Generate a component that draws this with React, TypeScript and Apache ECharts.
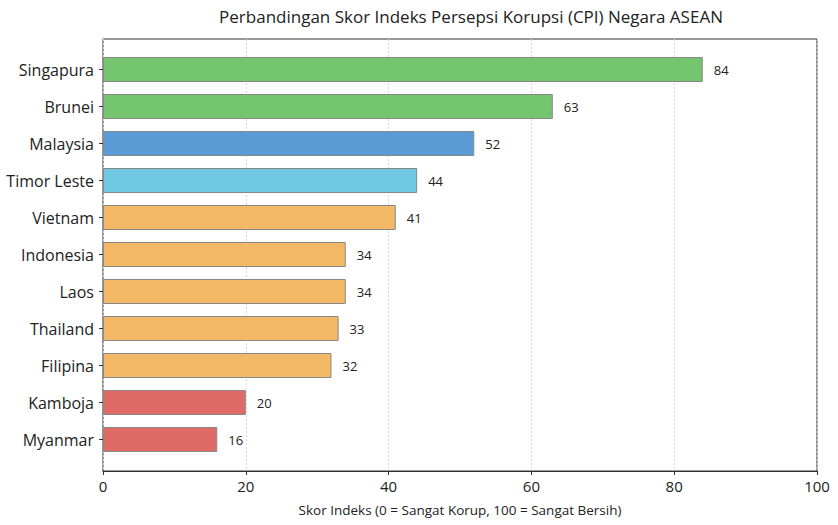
import { useEffect, useRef } from 'react'
import * as echarts from 'echarts'

// Data (top to bottom)
const countries = ['Singapura', 'Brunei', 'Malaysia', 'Timor Leste', 'Vietnam', 'Indonesia', 'Laos', 'Thailand', 'Filipina', 'Kamboja', 'Myanmar']
const scores = [84, 63, 52, 44, 41, 34, 34, 33, 32, 20, 16]
const barColors = ['#75c46e', '#75c46e', '#5b9bd5', '#70c8e2', '#f2b866', '#f2b866', '#f2b866', '#f2b866', '#f2b866', '#e06b66', '#e06b66']
const xTicks = [0, 20, 40, 60, 80, 100]

const FONT = '"Open Sans", Roboto, sans-serif'

export default function App() {
  const elRef = useRef<HTMLDivElement>(null)

  useEffect(() => {
    document.body.style.margin = '0'
    if (!elRef.current) return
    const chart = echarts.init(elRef.current, undefined, { renderer: 'svg' })
    chart.setOption({
      animation: false,
      textStyle: { fontFamily: FONT },
      title: {
        text: 'Perbandingan Skor Indeks Persepsi Korupsi (CPI) Negara ASEAN',
        left: 466,
        textAlign: 'center',
        top: 3,
        textStyle: { fontSize: 17, fontWeight: 'normal', color: '#222', fontFamily: FONT },
      },
      // grid 0: frame + x axis, grid 1: the bars (inset like matplotlib's margins)
      grid: [
        { left: 103, right: 21, top: 39, bottom: 54, show: true, borderColor: '#333', borderWidth: 1, backgroundColor: 'transparent' },
        { left: 103, right: 21, top: 51, bottom: 67 },
      ],
      xAxis: [
        {
          gridIndex: 0,
          type: 'value',
          min: 0,
          max: 100,
          interval: 20,
          axisLine: { show: true, lineStyle: { color: '#333' } },
          axisTick: { show: true, length: 4, lineStyle: { color: '#333' } },
          axisLabel: {
            fontSize: 15,
            color: '#222',
            margin: 7,
            formatter: (v: number) => (xTicks.includes(v) ? String(v) : ''),
          },
          splitLine: { show: true, lineStyle: { color: '#d8d8d8', type: [2, 2] } },
          name: 'Skor Indeks (0 = Sangat Korup, 100 = Sangat Bersih)',
          nameLocation: 'middle',
          nameGap: 32,
          nameTextStyle: { fontSize: 13.5, color: '#222' },
        },
        { gridIndex: 1, type: 'value', min: 0, max: 100, show: false },
      ],
      yAxis: [
        { gridIndex: 0, type: 'value', show: false },
        {
          gridIndex: 1,
          type: 'category',
          inverse: true,
          data: countries,
          axisLine: { show: false },
          axisTick: { show: true, alignWithLabel: true, length: 4, lineStyle: { color: '#333' } },
          axisLabel: { fontSize: 16, color: '#222', margin: 9 },
          splitLine: { show: false },
        },
      ],
      series: [
        {
          type: 'bar',
          xAxisIndex: 1,
          yAxisIndex: 1,
          barWidth: 25,
          data: scores.map((v, i) => ({
            value: v,
            itemStyle: { color: barColors[i], borderColor: '#888', borderWidth: 1 },
          })),
          label: { show: true, position: 'right', distance: 11, fontSize: 13, color: '#222' },
        },
      ],
    })
    return () => chart.dispose()
  }, [])

  return <div ref={elRef} style={{ width: 838, height: 525 }} />
}
